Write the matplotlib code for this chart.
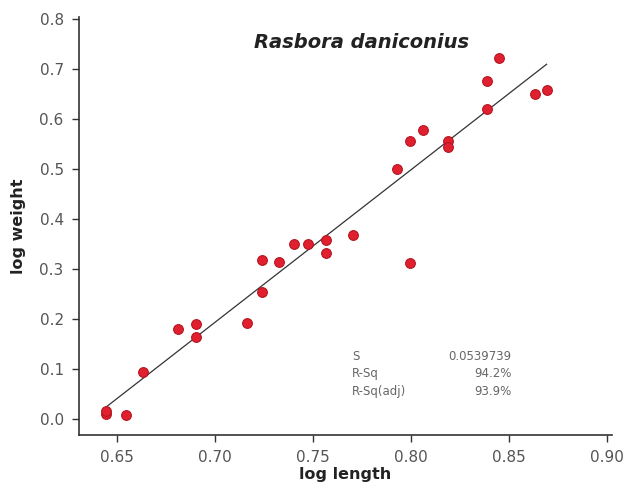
import numpy as np
import matplotlib
matplotlib.use("Agg")
import matplotlib.pyplot as plt

# data
log_length = [0.6442, 0.6442, 0.6544, 0.6634, 0.6810, 0.6903, 0.6903, 0.7162,
              0.7241, 0.7241, 0.7327, 0.7405, 0.7476, 0.7565, 0.7565, 0.7706,
              0.7927, 0.7995, 0.7995, 0.8063, 0.8190, 0.8190, 0.8389, 0.8389,
              0.8450, 0.8633, 0.8692]
log_weight = [0.010, 0.016, 0.009, 0.095, 0.181, 0.190, 0.165, 0.193,
              0.318, 0.254, 0.315, 0.351, 0.351, 0.358, 0.333, 0.368,
              0.500, 0.556, 0.313, 0.578, 0.556, 0.545, 0.676, 0.620,
              0.723, 0.651, 0.659]

stat_names = ["S", "R-Sq", "R-Sq(adj)"]
stat_values = ["0.0539739", "94.2%", "93.9%"]

x_ticks = [0.65, 0.70, 0.75, 0.80, 0.85, 0.90]
y_ticks = [0.0, 0.1, 0.2, 0.3, 0.4, 0.5, 0.6, 0.7, 0.8]

fig = plt.figure(figsize=(6.24, 4.88), dpi=100)
ax = fig.add_axes([0.1266, 0.1086, 0.854, 0.8565])

# fitted regression line
slope, intercept = np.polyfit(log_length, log_weight, 1)
xs = np.array([min(log_length), max(log_length)])
ax.plot(xs, slope * xs + intercept, color='#333333', lw=0.9, zorder=2)

ax.plot(log_length, log_weight, 'o', ms=7, mfc='#e0202f', mec='#b5141f',
        mew=0.8, zorder=3)

ax.set_xlim(0.6306, 0.9025)
ax.set_ylim(-0.032, 0.804)
ax.set_xticks(x_ticks)
ax.set_yticks(y_ticks)
ax.set_xticklabels([f'{v:.2f}' for v in x_ticks])
ax.set_yticklabels([f'{v:.1f}' for v in y_ticks])

for side in ['top', 'right']:
    ax.spines[side].set_visible(False)
for side in ['left', 'bottom']:
    ax.spines[side].set_color('#333333')
    ax.spines[side].set_linewidth(1.2)
ax.tick_params(direction='out', length=5, width=1, color='#333333',
               labelsize=11, labelcolor='#555555', pad=6)

ax.set_xlabel('log length', fontsize=11.5, fontweight='bold', color='#222222')
ax.set_ylabel('log weight', fontsize=11.5, fontweight='bold', color='#222222')
ax.xaxis.set_label_coords(0.5, -0.077)
ax.yaxis.set_label_coords(-0.100, 0.5)

ax.text(0.531, 0.940, 'Rasbora daniconius', transform=ax.transAxes,
        ha='center', va='center', fontsize=14, fontweight='bold',
        style='italic', color='#222222')

# stats table
row_y = [0.189, 0.146, 0.103]
for name, val, yy in zip(stat_names, stat_values, row_y):
    ax.text(0.512, yy, name, transform=ax.transAxes, ha='left', va='center',
            fontsize=8.5, color='#666666')
    ax.text(0.812, yy, val, transform=ax.transAxes, ha='right', va='center',
            fontsize=8.5, color='#666666')

fig.savefig('out.png', dpi=100)
